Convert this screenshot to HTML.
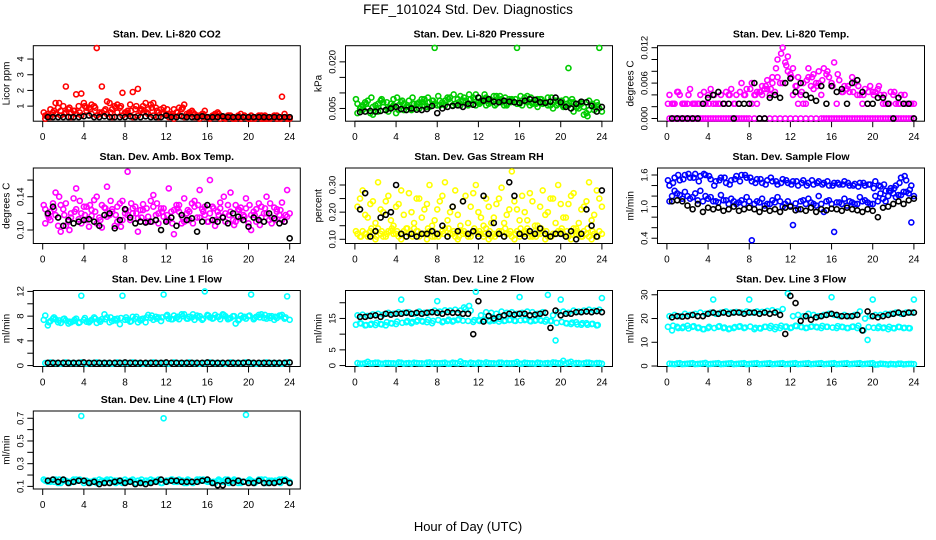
<!DOCTYPE html>
<html><head><meta charset="utf-8"><style>
html,body{margin:0;padding:0;background:#fff}
svg{display:block;font-family:"Liberation Sans",Arial,sans-serif}
</style></head><body>
<svg id="chart" width="936" height="540" viewBox="0 0 936 540" xmlns="http://www.w3.org/2000/svg">
<text x="468" y="14" font-size="13.5" text-anchor="middle">FEF_101024  Std. Dev. Diagnostics</text>
<text x="468" y="531" font-size="13" text-anchor="middle">Hour of Day (UTC)</text>
</svg>
<script>
const hoursA=[0.25,0.75,1.25,1.75,2.25,2.75,3.25,3.75,4.25,4.75,5.25,5.75,6.25,6.75,7.25,7.75,8.25,8.75,9.25,9.75,10.25,10.75,11.25,11.75,12.25,12.75,13.25,13.75,14.25,14.75,15.25,15.75,16.25,16.75,17.25,17.75,18.25,18.75,19.25,19.75,20.25,20.75,21.25,21.75,22.25,22.75,23.25,23.75];
const hoursB=[0.5,1,1.5,2,2.5,3,3.5,4,4.5,5,5.5,6,6.5,7,7.5,8,8.5,9,9.5,10,10.5,11,11.5,12,12.5,13,13.5,14,14.5,15,15.5,16,16.5,17,17.5,18,18.5,19,19.5,20,20.5,21,21.5,22,22.5,23,23.5,24];
const hoursC=[0.1,0.6,1.1,1.6,2.1,2.6,3.1,3.6,4.1,4.6,5.1,5.6,6.1,6.6,7.1,7.6,8.1,8.6,9.1,9.6,10.1,10.6,11.1,11.6,12.1,12.6,13.1,13.6,14.1,14.6,15.1,15.6,16.1,16.6,17.1,17.6,18.1,18.6,19.1,19.6,20.1,20.6,21.1,21.6,22.1,22.6,23.1,23.6];
const xTicks=[0,4,8,12,16,20,24];

const co2A=[0.4,0.8,1.2,0.7,2.25,0.6,1.75,1.8,0.9,1.1,4.7,2.25,1.3,0.8,1.1,1.85,0.7,1.9,2.1,1.0,0.8,1.2,0.6,0.9,0.5,0.8,0.9,1.1,0.6,0.5,0.4,0.7,0.3,0.5,0.4,0.3,0.4,0.3,0.5,0.3,0.4,0.3,0.4,0.3,0.3,0.4,1.6,0.3];
const co2B=[0.5,0.6,0.9,1.0,0.8,0.7,1.0,1.2,0.9,1.0,0.6,0.7,1.2,1.0,0.9,0.6,1.1,0.8,0.7,1.2,1.1,0.9,0.8,0.5,0.4,0.6,0.8,0.5,0.7,0.4,0.5,0.3,0.4,0.6,0.3,0.4,0.2,0.4,0.3,0.2,0.3,0.4,0.2,0.3,0.4,0.3,0.5,0.2];
const co2C=[0.2,0.3,0.5,0.4,0.6,0.3,0.5,0.4,0.7,0.5,0.4,0.6,0.5,0.3,0.6,0.4,0.5,0.3,0.4,0.6,0.5,0.4,0.3,0.5,0.3,0.2,0.4,0.3,0.5,0.3,0.2,0.3,0.2,0.3,0.2,0.2,0.3,0.2,0.2,0.3,0.2,0.3,0.2,0.2,0.3,0.2,0.3,0.2];
const co2D=[0.6,0.4,0.7,1.2,0.5,0.9,0.7,0.6,1.0,0.8,0.9,0.5,0.8,0.6,0.9,1.0,0.6,0.7,1.0,0.8,0.6,0.9,0.7,0.6,0.8,0.5,0.6,0.9,0.4,0.6,0.3,0.5,0.3,0.4,0.5,0.3,0.4,0.3,0.3,0.4,0.3,0.2,0.3,0.4,0.2,0.3,0.2,0.3];
const co2K=[0.3,0.3,0.3,0.3,0.3,0.3,0.3,0.35,0.4,0.3,0.3,0.35,0.3,0.3,0.3,0.3,0.35,0.3,0.3,0.35,0.3,0.3,0.3,0.4,0.3,0.3,0.35,0.3,0.3,0.3,0.35,0.3,0.3,0.3,0.35,0.3,0.3,0.3,0.3,0.3,0.3,0.3,0.3,0.3,0.3,0.3,0.3,0.3];

const prA=[.0065,.0045,.0075,.0055,.0040,.0070,.0050,.0080,.0060,.0045,.0075,.0065,.0050,.0080,.0070,.0245,.0060,.0075,.0085,.0065,.0090,.0070,.0080,.0095,.0075,.0085,.0070,.0090,.0080,.0065,.0080,.0245,.0075,.0090,.0070,.0080,.0065,.0085,.0070,.0075,.0060,.0180,.0070,.0065,.0055,.0075,.0045,.0245];
const prB=[.0050,.0070,.0035,.0060,.0075,.0045,.0065,.0035,.0070,.0055,.0045,.0065,.0080,.0055,.0075,.0060,.0070,.0085,.0060,.0080,.0075,.0060,.0085,.0070,.0080,.0065,.0090,.0075,.0060,.0080,.0070,.0065,.0085,.0060,.0075,.0080,.0070,.0060,.0075,.0065,.0080,.0070,.0055,.0065,.0035,.0060,.0070,.0040];
const prC=[.0035,.0060,.0050,.0030,.0065,.0055,.0040,.0060,.0045,.0065,.0055,.0050,.0070,.0060,.0055,.0065,.0075,.0060,.0070,.0065,.0060,.0075,.0065,.0060,.0070,.0060,.0075,.0065,.0070,.0060,.0075,.0065,.0060,.0070,.0065,.0055,.0070,.0060,.0050,.0065,.0055,.0060,.0040,.0050,.0030,.0045,.0055,.0050];
const prD=[.0080,.0055,.0065,.0085,.0050,.0080,.0070,.0055,.0085,.0075,.0060,.0085,.0065,.0070,.0085,.0075,.0090,.0065,.0080,.0095,.0070,.0085,.0095,.0080,.0065,.0095,.0080,.0060,.0090,.0085,.0070,.0080,.0090,.0075,.0085,.0065,.0080,.0070,.0085,.0060,.0075,.0065,.0080,.0055,.0070,.0025,.0065,.0060];
const prK=[.0038,.0040,.0042,.0040,.0042,.0045,.0050,.0055,.0048,.0045,.0050,.0046,.0045,.0048,.0058,.0035,.0050,.0055,.0058,.0060,.0055,.0065,.0062,.0085,.0075,.0080,.0072,.0070,.0075,.0072,.0070,.0068,.0075,.0080,.0078,.0070,.0068,.0072,.0085,.0070,.0055,.0050,.0065,.0072,.0070,.0058,.0040,.0055];

const tmA=[0,0,0,0,0,0,0,0,0,0,0,0,0,0,0,0,0.0025,0.0025,0.004,0.005,0.007,0.010,0.006,0.008,0.004,0.0025,0.0025,0.007,0.005,0.008,0,0,0,0,0,0,0,0,0,0,0,0,0,0,0,0,0,0];
const tmB=[0.0025,0.0045,0.0025,0.0025,0.0025,0.0025,0.0025,0.004,0.0025,0.0025,0.0025,0.004,0.0025,0.0025,0.004,0.0025,0.004,0.0045,0.005,0.004,0.0045,0.006,0.0095,0.0075,0.0055,0.004,0.0025,0.0055,0.006,0.004,0.0075,0.006,0.0025,0.0045,0.005,0.007,0.004,0.0025,0.0025,0.0045,0.005,0.0025,0.0025,0.004,0.0025,0.0025,0.0025,0.0025];
const tmC=[0.004,0.0025,0.004,0.0025,0.005,0.0025,0.004,0.0025,0.005,0.0025,0.004,0.0045,0.005,0.004,0.006,0.005,0.006,0.0045,0.0055,0.0065,0.006,0.007,0.012,0.0105,0.0085,0.007,0.006,0.0085,0.0075,0.006,0.0085,0.007,0.0095,0.0065,0.0055,0.0045,0.006,0.004,0.005,0.0055,0.0045,0.004,0.0025,0.0045,0.0025,0.004,0.0025,0.0025];
const tmD=[0,0,0,0,0,0,0,0,0,0,0,0,0,0,0,0,0,0,0,0,0,0,0,0,0,0,0,0,0,0,0,0,0,0,0,0,0,0,0,0,0,0,0,0,0,0,0,0];
const tmE=[0.0025,0.0025,0.0045,0.0025,0.004,0.0025,0.0025,0.0045,0.0025,0.004,0.0025,0.0025,0.004,0.0025,0.0045,0.004,0.005,0.004,0.0045,0.0055,0.005,0.0085,0.011,0.009,0.007,0.0055,0.0045,0.0065,0.007,0.0055,0.0065,0.008,0.0055,0.0075,0.0045,0.0055,0.0045,0.0055,0.004,0.0045,0.004,0.0055,0.004,0.0025,0.0045,0.0025,0.004,0.0025];
const tmK=[0,0,0,0,0,0,0.0025,0.0035,0.004,0.0045,0.0025,0.0025,0,0.0025,0.0025,0.0025,0.006,0,0,0.0035,0.004,0.0035,0.006,0.0068,0.0045,0.006,0.004,0.0035,0.003,0.0055,0.0025,0.0055,0.0045,0.005,0.0025,0.006,0.0065,0.0045,0.0025,0.0025,0.0035,0.0035,0.0025,0,0.0035,0.0025,0.0025,0];

const abA=[0.125,0.112,0.145,0.098,0.132,0.120,0.150,0.108,0.128,0.117,0.140,0.103,0.152,0.125,0.110,0.135,0.170,0.120,0.098,0.131,0.116,0.142,0.108,0.126,0.150,0.095,0.122,0.138,0.112,0.128,0.148,0.118,0.160,0.105,0.133,0.120,0.145,0.110,0.127,0.138,0.100,0.125,0.115,0.140,0.108,0.122,0.133,0.148];
const abB=[0.118,0.132,0.105,0.125,0.110,0.138,0.113,0.128,0.104,0.136,0.115,0.127,0.118,0.105,0.132,0.120,0.112,0.128,0.124,0.110,0.135,0.118,0.126,0.112,0.122,0.130,0.108,0.120,0.132,0.115,0.125,0.110,0.128,0.122,0.116,0.130,0.112,0.125,0.118,0.108,0.122,0.132,0.120,0.112,0.127,0.118,0.110,0.120];
const abC=[0.108,0.122,0.118,0.130,0.105,0.115,0.125,0.120,0.112,0.124,0.108,0.130,0.116,0.122,0.128,0.112,0.118,0.126,0.114,0.124,0.110,0.128,0.120,0.116,0.112,0.124,0.130,0.110,0.122,0.135,0.115,0.128,0.120,0.112,0.126,0.110,0.122,0.130,0.114,0.126,0.118,0.110,0.128,0.120,0.115,0.125,0.112,0.116];
const abD=[0.130,0.115,0.125,0.140,0.118,0.100,0.122,0.135,0.118,0.130,0.122,0.112,0.126,0.135,0.118,0.104,0.124,0.132,0.120,0.115,0.126,0.110,0.132,0.122,0.118,0.108,0.126,0.115,0.124,0.108,0.130,0.122,0.110,0.126,0.118,0.140,0.118,0.106,0.124,0.116,0.130,0.118,0.106,0.126,0.132,0.112,0.124,0.118];
const abK=[0.120,0.128,0.115,0.105,0.112,0.108,0.110,0.112,0.113,0.110,0.105,0.118,0.120,0.102,0.112,0.125,0.115,0.108,0.110,0.109,0.110,0.112,0.100,0.110,0.115,0.105,0.118,0.112,0.114,0.098,0.110,0.130,0.112,0.110,0.115,0.108,0.120,0.116,0.112,0.104,0.115,0.112,0.110,0.120,0.114,0.108,0.110,0.090];

const rhA=[0.12,0.13,0.11,0.12,0.14,0.11,0.13,0.12,0.11,0.13,0.12,0.14,0.11,0.12,0.13,0.11,0.12,0.14,0.12,0.11,0.13,0.12,0.11,0.13,0.12,0.14,0.11,0.12,0.13,0.12,0.11,0.13,0.12,0.14,0.11,0.12,0.13,0.11,0.12,0.13,0.12,0.11,0.14,0.12,0.13,0.11,0.12,0.13];
const rhB=[0.11,0.12,0.13,0.10,0.12,0.11,0.13,0.12,0.10,0.11,0.12,0.13,0.12,0.10,0.11,0.12,0.13,0.11,0.12,0.10,0.12,0.11,0.13,0.12,0.11,0.10,0.12,0.13,0.11,0.12,0.10,0.11,0.12,0.11,0.13,0.12,0.10,0.11,0.12,0.13,0.11,0.10,0.12,0.11,0.12,0.10,0.11,0.12];
const rhC=[0.22,0.28,0.18,0.24,0.31,0.20,0.26,0.15,0.23,0.19,0.27,0.16,0.25,0.21,0.30,0.17,0.24,0.31,0.20,0.28,0.15,0.26,0.22,0.30,0.18,0.25,0.16,0.23,0.29,0.19,0.35,0.21,0.26,0.17,0.24,0.15,0.28,0.20,0.25,0.30,0.18,0.23,0.27,0.16,0.22,0.31,0.19,0.25];
const rhD=[0.25,0.19,0.23,0.16,0.21,0.24,0.17,0.22,0.28,0.14,0.20,0.25,0.18,0.23,0.15,0.21,0.26,0.17,0.22,0.19,0.24,0.16,0.27,0.20,0.15,0.22,0.18,0.25,0.16,0.21,0.24,0.17,0.20,0.27,0.15,0.22,0.19,0.25,0.16,0.23,0.18,0.26,0.14,0.21,0.24,0.17,0.28,0.22];
const rhE=[0.13,0.11,0.12,0.14,0.11,0.13,0.12,0.14,0.13,0.12,0.14,0.11,0.13,0.12,0.14,0.13,0.11,0.12,0.14,0.13,0.11,0.13,0.12,0.14,0.13,0.12,0.13,0.11,0.12,0.14,0.13,0.12,0.14,0.13,0.12,0.11,0.14,0.13,0.11,0.12,0.14,0.13,0.12,0.13,0.11,0.14,0.13,0.11];
const rhK=[0.21,0.27,0.11,0.13,0.18,0.19,0.20,0.30,0.12,0.11,0.12,0.11,0.12,0.12,0.13,0.12,0.15,0.11,0.22,0.13,0.24,0.12,0.13,0.11,0.26,0.12,0.16,0.12,0.11,0.31,0.26,0.12,0.11,0.13,0.12,0.14,0.12,0.11,0.12,0.12,0.11,0.13,0.10,0.12,0.21,0.15,0.11,0.28];

const sfA=[1.40,1.55,1.50,1.60,1.55,1.62,1.58,1.60,1.52,1.48,1.55,1.45,1.50,1.58,1.60,1.55,1.48,1.52,1.45,1.50,1.48,1.42,1.52,1.45,1.48,1.40,1.50,1.45,1.42,1.48,1.45,1.40,1.45,1.42,1.48,1.40,1.43,1.45,1.40,1.42,1.48,1.38,1.30,1.35,1.40,1.55,1.50,1.40];
const sfB=[1.20,1.25,1.15,1.20,1.18,1.12,1.10,1.15,1.10,1.08,1.12,1.05,1.10,1.08,1.05,1.10,1.05,1.08,1.02,1.05,1.08,1.10,1.05,1.02,1.06,1.10,1.05,1.08,1.02,1.05,1.10,1.05,1.08,1.05,1.02,1.08,1.05,1.10,1.08,1.05,1.10,1.15,1.20,1.25,1.22,1.28,1.25,1.20];
const sfC=[1.10,1.30,1.22,1.28,1.15,1.25,1.30,1.20,1.18,1.10,1.22,1.12,1.15,1.05,1.12,1.18,0.36,1.10,1.15,1.05,1.12,1.18,1.00,1.10,0.65,0.95,1.12,1.15,1.05,1.20,0.90,1.12,0.52,1.08,1.15,1.10,1.05,1.18,1.12,1.05,1.20,1.25,1.10,1.30,1.18,1.22,1.28,0.70];
const sfD=[1.50,1.45,1.60,1.52,1.62,1.55,1.48,1.62,1.58,1.40,1.50,1.55,1.42,1.52,1.48,1.60,1.55,1.45,1.52,1.42,1.55,1.48,1.45,1.50,1.42,1.48,1.45,1.40,1.50,1.45,1.42,1.48,1.40,1.45,1.42,1.45,1.40,1.38,1.45,1.42,1.35,1.40,1.42,1.30,1.35,1.45,1.58,1.32];
const sfK=[1.10,1.12,1.10,1.02,0.95,1.05,0.90,0.98,0.95,0.98,0.92,0.95,1.00,0.92,0.95,0.98,0.95,0.90,0.96,0.92,0.95,0.90,0.98,1.00,0.93,0.95,0.92,0.98,0.90,0.95,0.93,0.96,0.95,0.92,0.98,0.95,0.93,0.90,0.95,0.92,0.80,0.98,1.00,1.05,1.10,1.05,1.12,1.15];

const l1A=[8.1,7.2,7.5,6.9,7.3,7.0,7.6,11.3,7.1,7.4,6.9,7.5,7.8,7.2,7.6,11.3,7.4,7.9,7.0,7.6,8.2,7.4,7.8,11.5,7.6,8.1,7.5,8.3,7.9,7.4,8.0,12.0,7.8,8.2,7.5,8.0,7.7,6.8,8.1,7.6,11.5,7.9,8.3,7.6,8.0,7.7,8.2,11.2];
const l1B=[6.5,7.6,7.0,7.5,6.8,7.2,6.9,7.4,7.0,7.8,7.3,8.3,7.0,7.5,6.7,7.4,7.1,7.6,7.3,7.0,7.7,7.9,7.2,8.0,7.5,7.7,8.3,7.6,7.8,8.1,7.4,8.2,7.6,7.9,8.3,7.5,8.0,7.3,7.8,8.0,7.5,8.2,7.7,8.0,7.4,8.1,7.6,7.4];
const l1E=[7.4,7.0,7.8,7.3,7.6,7.1,7.4,7.0,7.7,7.2,7.6,7.1,7.5,7.8,7.3,7.7,7.8,7.2,7.9,7.5,7.8,8.1,7.6,7.8,8.2,7.5,7.9,8.0,7.6,8.3,7.8,7.6,8.1,7.7,7.9,8.2,7.6,8.0,7.5,7.9,8.1,7.7,7.8,8.2,7.7,7.9,8.0,7.8];
const l1C=[0.4,0.5,0.4,0.3,0.5,0.4,0.4,0.5,0.3,0.4,0.5,0.4,0.4,0.3,0.5,0.4,0.4,0.5,0.4,0.3,0.4,0.5,0.4,0.4,0.3,0.5,0.4,0.4,0.5,0.4,0.3,0.4,0.5,0.4,0.4,0.3,0.5,0.4,0.4,0.5,0.4,0.3,0.4,0.5,0.4,0.4,0.3,0.5];
const l1K=[0.45,0.45,0.45,0.45,0.45,0.45,0.45,0.5,0.45,0.45,0.45,0.45,0.45,0.45,0.45,0.5,0.45,0.45,0.45,0.45,0.45,0.45,0.45,0.5,0.45,0.45,0.45,0.45,0.45,0.45,0.45,0.5,0.45,0.45,0.45,0.45,0.45,0.45,0.45,0.5,0.45,0.45,0.45,0.45,0.45,0.45,0.45,0.5];

const l2A=[16,16.2,15.8,16.3,16.5,16.2,16.8,16.5,17,16.8,17,16.5,17.2,16.8,17,17.5,17.2,17.6,17.5,17.8,17.5,18,17.5,23.5,16,17,16.8,16.5,17.2,16.8,17,16.5,16.8,17.2,17,16.5,17,22.5,16,17,17.2,16.8,17.5,17.2,17.5,17.8,17.5,17.8];
const l2B=[13.5,12.8,13,12.9,13.2,12.8,13.5,13.2,21,13.8,13.5,14,14.2,13.8,13.5,20.5,13.8,14.2,14,14.5,14.3,14.2,13.9,14.5,14.2,14.5,14.3,14,14.2,14.5,14.3,21.8,14.5,14.2,14.3,14.5,14,14.2,8,21,13.5,13.2,13.8,13,13.5,13.2,12.8,21.5];
const l2E=[13,13.4,12.9,13.3,13.6,13.1,13.8,13.4,14,13.6,14.2,13.9,14.4,14,14.6,14.2,14.5,14.1,14.6,14.3,14.8,18.5,19,14.5,14.2,14.6,14.1,14.5,14.8,14.3,14.6,14.2,14.4,14.7,14.1,14.5,14.3,14.6,14.2,13.6,13.9,13.4,13.7,13.1,13.5,13,13.3,12.9];
const l2C=[0.8,0.6,1.2,0.7,0.9,0.6,0.8,0.7,1.0,0.6,0.8,0.9,0.7,0.6,1.0,0.8,0.7,0.9,0.6,0.8,1.3,0.7,0.9,0.6,0.8,1.0,0.7,0.6,0.9,0.8,0.7,1.1,0.6,0.8,0.7,0.9,0.6,0.8,1.0,0.7,1.5,0.9,0.6,0.8,0.7,0.9,0.6,0.8];
const l2D=[0.6,0.8,0.7,0.9,0.6,0.8,0.7,0.6,0.9,0.7,0.6,0.8,0.7,0.9,0.6,0.7,0.8,0.6,0.9,0.7,0.8,0.6,0.7,0.9,0.6,0.8,0.7,0.9,0.6,0.7,0.8,0.6,0.9,0.7,0.6,0.8,0.7,0.6,0.9,0.8,0.7,1.2,0.8,0.6,0.9,0.7,0.8,0.6];
const l2K=[15.5,15.5,15.8,16,15.5,16.5,16.2,16.5,16.5,16.8,16.5,16.8,16.5,16.8,17,16.8,16.5,17,16.8,16.8,16.5,16.5,10,20.5,14,15.8,15,15.5,16,16.5,16.2,16.5,16.5,16,16.2,16.5,16.8,12,17.5,16,16.5,16.5,17,17,17.2,17,17.3,17];

const l3A=[21,21.5,21,22,21.5,22,22.5,22,22.5,22,22.5,23,22.5,22.8,22.5,23,22.5,23,22.8,23.2,23.5,23,24,30.5,21,21.5,21,22,21.5,21,21.5,22,21.5,21,21.5,21,21.5,23,20,21,21.5,21.5,22,22,22.5,22,22.5,22.5];
const l3B=[15,16.5,16,17,16.5,16,15.5,16,28,16.5,16,15.5,16,16.5,16,28,15.5,16,16.5,16,15.5,16,16.5,16,17,16.5,16,16.5,16.5,16,16.5,29,16,16.5,16,16.5,16,15,11,28,16,16,15.5,16,16.5,16,16,28];
const l3E=[16.5,17,16,16.5,15.8,16.8,16.2,15.5,16.5,16,16.8,16.2,15.8,16.4,16.8,16.2,16.6,16.1,15.8,16.5,16.9,16.4,17,16.6,16.2,16.8,16.4,16.1,16.7,16.3,16.9,16.5,16.2,16.8,16.4,16,16.6,17,15,16.4,16.1,16.6,16.2,16.5,15.9,16.4,16.1,15.9];
const l3C=[1.0,0.8,1.2,0.9,1.1,0.8,1.0,1.3,0.9,1.1,0.8,1.0,1.2,0.9,1.1,0.8,1.0,1.2,0.9,1.1,0.8,1.0,1.2,0.9,1.1,0.8,1.0,1.2,0.9,1.1,0.8,1.0,1.2,0.9,1.1,0.8,1.0,1.2,0.9,1.1,0.6,1.0,0.8,0.9,0.7,1.0,0.8,0.9];
const l3D=[0.9,1.1,0.8,1.0,1.2,0.9,1.1,0.8,1.0,1.2,0.9,1.1,0.8,1.0,1.2,0.9,1.1,0.8,1.0,1.2,0.9,1.1,0.8,1.0,1.2,0.9,1.1,0.8,1.0,1.2,0.9,1.1,0.8,1.0,1.2,0.9,1.1,0.8,1.0,1.2,0.7,0.9,0.6,0.8,1.0,0.7,0.9,0.8];
const l3K=[20.5,21,20.8,21,21.5,21,21,22,22.5,22,22.5,22,22.5,22.5,22,22.5,22.5,22,22.5,22,22.5,21.5,13.5,29.5,26.5,19,21,19.5,20.5,21,21.5,22,21.5,21,21,21,21.5,15,23,21,20.5,21,21.5,22,22.5,22,22.5,22.5];

const l4A=[0.15,0.14,0.16,0.13,0.15,0.14,0.16,0.72,0.15,0.14,0.13,0.15,0.16,0.14,0.15,0.13,0.14,0.16,0.15,0.13,0.14,0.15,0.16,0.70,0.15,0.14,0.16,0.13,0.15,0.14,0.16,0.15,0.14,0.13,0.15,0.16,0.14,0.15,0.13,0.73,0.15,0.14,0.16,0.13,0.15,0.14,0.16,0.15];
const l4B=[0.14,0.16,0.13,0.15,0.14,0.16,0.15,0.13,0.14,0.15,0.16,0.14,0.13,0.15,0.14,0.16,0.15,0.13,0.14,0.15,0.16,0.14,0.13,0.15,0.16,0.14,0.15,0.13,0.14,0.16,0.15,0.14,0.13,0.15,0.14,0.16,0.15,0.13,0.14,0.15,0.14,0.16,0.13,0.15,0.14,0.16,0.15,0.14];
const l4C=[0.16,0.15,0.14,0.16,0.15,0.13,0.14,0.16,0.15,0.13,0.15,0.14,0.15,0.16,0.13,0.15,0.14,0.15,0.13,0.16,0.15,0.14,0.15,0.13,0.14,0.16,0.14,0.15,0.16,0.13,0.14,0.16,0.15,0.14,0.16,0.14,0.13,0.16,0.15,0.14,0.16,0.13,0.15,0.16,0.14,0.15,0.13,0.16];
const l4K=[0.15,0.16,0.14,0.16,0.13,0.14,0.15,0.15,0.13,0.14,0.12,0.13,0.13,0.14,0.15,0.13,0.14,0.12,0.13,0.12,0.13,0.14,0.16,0.14,0.15,0.15,0.14,0.14,0.14,0.14,0.15,0.16,0.13,0.11,0.11,0.15,0.13,0.15,0.14,0.13,0.13,0.15,0.13,0.13,0.13,0.14,0.15,0.13];

const panels=[
 {name:'co2',title:'Stan. Dev. Li-820 CO2',ylab:'Licor ppm',col:0,row:0,lo:0.04,hi:4.85,ticks:[1,2,3,4],labels:['1','2','3','4'],series:[[hoursA,co2A,'#ff0000'],[hoursB,co2B,'#ff0000'],[hoursA,co2C,'#ff0000'],[hoursC,co2D,'#ff0000'],[hoursB,co2K,'#000']]},
 {name:'pressure',title:'Stan. Dev. Li-820 Pressure',ylab:'kPa',col:1,row:0,lo:0.0009,hi:0.0252,ticks:[0.005,0.010,0.015,0.020],labels:['0.005','','','0.020'],series:[[hoursA,prA,'#00cc00'],[hoursB,prB,'#00cc00'],[hoursA,prC,'#00cc00'],[hoursC,prD,'#00cc00'],[hoursB,prK,'#000']]},
 {name:'temp',title:'Stan. Dev. Li-820 Temp.',ylab:'degrees C',col:2,row:0,lo:-0.00046,hi:0.01234,ticks:[0,0.002,0.004,0.006,0.008,0.010,0.012],labels:['0.000','','','0.006','','','0.012'],series:[[hoursA,tmA,'#ff00ff'],[hoursB,tmB,'#ff00ff'],[hoursA,tmC,'#ff00ff'],[hoursB,tmD,'#ff00ff'],[hoursC,tmE,'#ff00ff'],[hoursB,tmK,'#000']]},
 {name:'amb-box',title:'Stan. Dev. Amb. Box Temp.',ylab:'degrees C',col:0,row:1,lo:0.0838,hi:0.1745,ticks:[0.10,0.12,0.14,0.16],labels:['0.10','','0.14',''],series:[[hoursA,abA,'#ff00ff'],[hoursB,abB,'#ff00ff'],[hoursA,abC,'#ff00ff'],[hoursC,abD,'#ff00ff'],[hoursB,abK,'#000']]},
 {name:'rh',title:'Stan. Dev. Gas Stream RH',ylab:'percent',col:1,row:1,lo:0.0845,hi:0.3626,ticks:[0.10,0.15,0.20,0.25,0.30],labels:['0.10','','0.20','','0.30'],series:[[hoursA,rhA,'#ffff00'],[hoursB,rhB,'#ffff00'],[hoursA,rhC,'#ffff00'],[hoursB,rhD,'#ffff00'],[hoursC,rhE,'#ffff00'],[hoursB,rhK,'#000']]},
 {name:'sample-flow',title:'Stan. Dev. Sample Flow',ylab:'ml/min',col:2,row:1,lo:0.30,hi:1.733,ticks:[0.4,0.6,0.8,1.0,1.2,1.4,1.6],labels:['0.4','','','1.0','','','1.6'],series:[[hoursA,sfA,'#0000ff'],[hoursB,sfB,'#0000ff'],[hoursA,sfC,'#0000ff'],[hoursC,sfD,'#0000ff'],[hoursB,sfK,'#000']]},
 {name:'line1',title:'Stan. Dev. Line 1 Flow',ylab:'ml/min',col:0,row:2,lo:-0.15,hi:12.15,ticks:[0,2,4,6,8,10,12],labels:['0','','4','','8','','12'],series:[[hoursA,l1A,'#00ffff'],[hoursB,l1B,'#00ffff'],[hoursC,l1E,'#00ffff'],[hoursA,l1C,'#00ffff'],[hoursB,l1K,'#000']]},
 {name:'line2',title:'Stan. Dev. Line 2 Flow',ylab:'ml/min',col:1,row:2,lo:-0.3,hi:23.9,ticks:[0,5,10,15,20],labels:['0','5','','15',''],series:[[hoursA,l2A,'#00ffff'],[hoursB,l2B,'#00ffff'],[hoursC,l2E,'#00ffff'],[hoursA,l2C,'#00ffff'],[hoursB,l2D,'#00ffff'],[hoursB,l2K,'#000']]},
 {name:'line3',title:'Stan. Dev. Line 3 Flow',ylab:'ml/min',col:2,row:2,lo:-0.2,hi:31.8,ticks:[0,10,20,30],labels:['0','10','20','30'],series:[[hoursA,l3A,'#00ffff'],[hoursB,l3B,'#00ffff'],[hoursC,l3E,'#00ffff'],[hoursA,l3C,'#00ffff'],[hoursB,l3D,'#00ffff'],[hoursB,l3K,'#000']]},
 {name:'line4',title:'Stan. Dev. Line 4 (LT) Flow',ylab:'ml/min',col:0,row:3,lo:0.077,hi:0.764,ticks:[0.1,0.2,0.3,0.4,0.5,0.6,0.7],labels:['0.1','','0.3','','0.5','','0.7'],series:[[hoursA,l4A,'#00ffff'],[hoursB,l4B,'#00ffff'],[hoursC,l4C,'#00ffff'],[hoursB,l4K,'#000']]}
];
const colLeft=[33.3,345.5,657.5];
const rowTop=[45.7,168,290.5,411];
const rowH=[75.5,75.5,76,78];
const W=267;
const NS='http://www.w3.org/2000/svg';
const svg=document.getElementById('chart');
function mk(tag,attrs,parent){const e=document.createElementNS(NS,tag);for(const k in attrs)e.setAttribute(k,attrs[k]);(parent||svg).appendChild(e);return e;}

panels.forEach(p=>{
  const L=colLeft[p.col],T=rowTop[p.row],H=rowH[p.row],B=T+H;
  const g=mk('g',{});
  
  
  const xs=h=>L+9.4+h*(247/24);
  const ys=v=>B-(v-p.lo)/(p.hi-p.lo)*H;
  const t=mk('text',{x:L+W/2,y:T-8,'font-size':10.5,'font-weight':'bold','text-anchor':'middle'},g);
  t.textContent=p.title;
  
  
  const box=mk('rect',{x:L,y:T,width:W,height:H,fill:'none',stroke:'#000','stroke-width':1},g);
  
  
  const xa=mk('g',{},g);
  
  
  mk('line',{x1:xs(0),x2:xs(24),y1:B,y2:B,stroke:'#000'},xa);
  xTicks.forEach(h=>{
    mk('line',{x1:xs(h),x2:xs(h),y1:B,y2:B+6,stroke:'#000'},xa);
    const tl=mk('text',{x:xs(h),y:B+19,'font-size':10,'text-anchor':'middle'},xa);
    tl.textContent=String(h);
    
    
  });
  const ya=mk('g',{},g);
  
  
  mk('line',{x1:L,x2:L,y1:ys(p.ticks[0]),y2:ys(p.ticks[p.ticks.length-1]),stroke:'#000'},ya);
  p.ticks.forEach((v,i)=>{
    mk('line',{x1:L-6,x2:L,y1:ys(v),y2:ys(v),stroke:'#000'},ya);
    if(p.labels[i]){
      const yl=mk('text',{x:0,y:0,'font-size':9.5,'text-anchor':'middle',transform:'translate('+(L-10)+','+ys(v)+') rotate(-90)'},ya);
      yl.textContent=p.labels[i];
      
      
    }
  });
  const yt=mk('text',{x:0,y:0,'font-size':10,'text-anchor':'middle',transform:'translate('+(L-24)+','+(T+H/2)+') rotate(-90)'},g);
  yt.textContent=p.ylab;
  
  
  p.series.forEach((s,si)=>{
    const sg=mk('g',{fill:'none',stroke:s[2],'stroke-width':1.6},g);
    
    
    s[1].forEach((v,i)=>{
      const c=mk('circle',{cx:xs(s[0][i]),cy:ys(v),r:2.5},sg);
      
      
    });
  });
});
</script>
</body></html>
